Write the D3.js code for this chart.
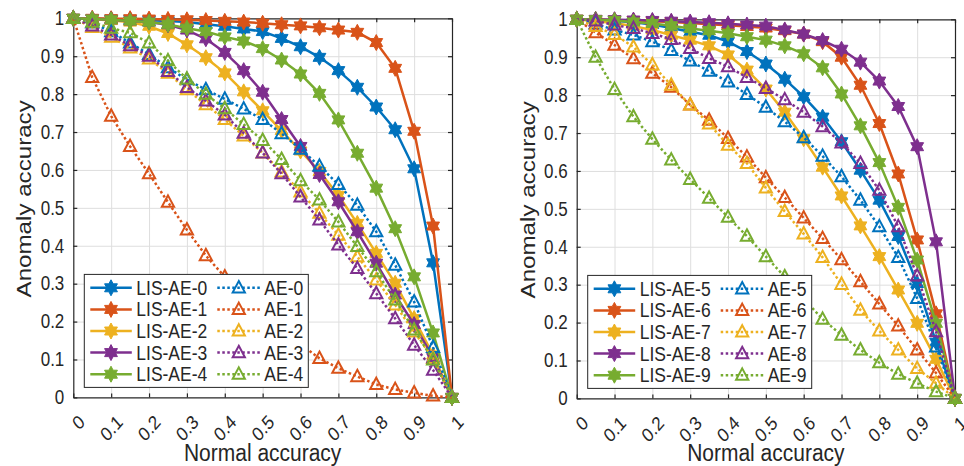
<!DOCTYPE html>
<meta charset="UTF-8">
<style>
	body { margin: 0; background: #fff; }
	svg text { font-family: "Liberation Sans", Arial, sans-serif; fill: #262626; }
	.grid line { stroke: #dedede; stroke-width: 1; }
	.grid path { display: none; }
	.axis path, .axis line { stroke: #262626; stroke-width: 1.2; }
	.legend rect { fill: #fff; stroke: #262626; stroke-width: 1; }
</style>
<body>
<script src="https://d3js.org/d3.v7.min.js"></script>
<script>

	// x values shared by every curve
	const normalAcc = [0, 0.05, 0.1, 0.15, 0.2, 0.25, 0.3, 0.35, 0.4, 0.45, 0.5, 0.55, 0.6, 0.65, 0.7, 0.75, 0.8, 0.85, 0.9, 0.95, 1];
	const tickValues = [0, 0.1, 0.2, 0.3, 0.4, 0.5, 0.6, 0.7, 0.8, 0.9, 1];
	const tickLabels = ["0", "0.1", "0.2", "0.3", "0.4", "0.5", "0.6", "0.7", "0.8", "0.9", "1"];

	// left panel
	const lisAE0 = [1, 0.999, 0.998, 0.997, 0.995, 0.993, 0.99, 0.984, 0.979, 0.972, 0.965, 0.947, 0.925, 0.897, 0.862, 0.818, 0.766, 0.706, 0.603, 0.355, 0];
	const lisAE1 = [1, 1, 0.999, 0.999, 0.998, 0.997, 0.996, 0.994, 0.992, 0.99, 0.987, 0.983, 0.98, 0.975, 0.969, 0.963, 0.936, 0.868, 0.702, 0.452, 0];
	const lisAE2 = [1, 0.998, 0.994, 0.99, 0.979, 0.96, 0.93, 0.896, 0.856, 0.806, 0.756, 0.704, 0.65, 0.596, 0.533, 0.459, 0.38, 0.301, 0.208, 0.112, 0];
	const lisAE3 = [1, 0.998, 0.996, 0.993, 0.99, 0.983, 0.969, 0.946, 0.91, 0.862, 0.805, 0.733, 0.662, 0.588, 0.516, 0.437, 0.354, 0.27, 0.192, 0.105, 0];
	const lisAE4 = [1, 0.998, 0.996, 0.993, 0.99, 0.984, 0.974, 0.965, 0.951, 0.94, 0.92, 0.89, 0.853, 0.802, 0.732, 0.644, 0.552, 0.445, 0.318, 0.17, 0];
	const ae0 = [1, 0.988, 0.965, 0.935, 0.905, 0.87, 0.838, 0.812, 0.787, 0.761, 0.733, 0.696, 0.655, 0.61, 0.562, 0.507, 0.437, 0.349, 0.252, 0.132, 0];
	const ae1 = [1, 0.844, 0.742, 0.662, 0.59, 0.515, 0.442, 0.374, 0.318, 0.27, 0.225, 0.182, 0.14, 0.103, 0.077, 0.055, 0.034, 0.021, 0.012, 0.004, 0];
	const ae2 = [1, 0.976, 0.95, 0.922, 0.893, 0.855, 0.812, 0.772, 0.733, 0.69, 0.645, 0.595, 0.542, 0.486, 0.428, 0.371, 0.31, 0.244, 0.173, 0.103, 0];
	const ae3 = [1, 0.98, 0.956, 0.928, 0.9, 0.86, 0.818, 0.782, 0.745, 0.697, 0.645, 0.59, 0.529, 0.468, 0.402, 0.34, 0.274, 0.208, 0.138, 0.072, 0];
	const ae4 = [1, 0.99, 0.974, 0.962, 0.935, 0.888, 0.84, 0.8, 0.762, 0.72, 0.678, 0.628, 0.572, 0.521, 0.463, 0.398, 0.332, 0.257, 0.178, 0.099, 0];

	// right panel
	const lisAE5 = [1, 0.998, 0.996, 0.992, 0.986, 0.977, 0.967, 0.958, 0.941, 0.915, 0.882, 0.842, 0.796, 0.742, 0.677, 0.602, 0.523, 0.427, 0.303, 0.148, 0];
	const lisAE6 = [1, 0.999, 0.998, 0.997, 0.995, 0.993, 0.99, 0.987, 0.984, 0.981, 0.977, 0.97, 0.961, 0.941, 0.9, 0.826, 0.725, 0.592, 0.418, 0.223, 0];
	const lisAE7 = [1, 0.995, 0.99, 0.982, 0.972, 0.958, 0.945, 0.93, 0.906, 0.866, 0.816, 0.755, 0.685, 0.61, 0.534, 0.455, 0.374, 0.286, 0.198, 0.103, 0];
	const lisAE8 = [1, 1, 0.999, 0.998, 0.997, 0.995, 0.993, 0.991, 0.988, 0.985, 0.982, 0.972, 0.961, 0.944, 0.921, 0.887, 0.837, 0.77, 0.664, 0.413, 0];
	const lisAE9 = [1, 0.999, 0.997, 0.993, 0.989, 0.983, 0.976, 0.97, 0.963, 0.954, 0.945, 0.93, 0.909, 0.872, 0.803, 0.719, 0.622, 0.504, 0.365, 0.198, 0];
	const ae5 = [1, 0.988, 0.972, 0.959, 0.941, 0.918, 0.89, 0.863, 0.835, 0.802, 0.768, 0.73, 0.688, 0.639, 0.585, 0.523, 0.453, 0.372, 0.264, 0.136, 0];
	const ae6 = [1, 0.965, 0.932, 0.896, 0.858, 0.821, 0.774, 0.734, 0.686, 0.637, 0.582, 0.53, 0.476, 0.422, 0.366, 0.308, 0.249, 0.191, 0.128, 0.067, 0];
	const ae7 = [1, 0.981, 0.96, 0.927, 0.88, 0.826, 0.774, 0.724, 0.668, 0.62, 0.555, 0.493, 0.434, 0.372, 0.301, 0.233, 0.178, 0.128, 0.079, 0.04, 0];
	const ae8 = [1, 0.996, 0.985, 0.976, 0.963, 0.947, 0.923, 0.897, 0.875, 0.847, 0.818, 0.788, 0.755, 0.717, 0.674, 0.62, 0.549, 0.453, 0.323, 0.176, 0];
	const ae9 = [1, 0.9, 0.815, 0.743, 0.684, 0.629, 0.578, 0.528, 0.478, 0.428, 0.374, 0.321, 0.263, 0.209, 0.167, 0.128, 0.094, 0.064, 0.04, 0.018, 0];

	const lisNames = ["LIS-AE-0", "LIS-AE-1", "LIS-AE-2", "LIS-AE-3", "LIS-AE-4", "LIS-AE-5", "LIS-AE-6", "LIS-AE-7", "LIS-AE-8", "LIS-AE-9"];
	const aeNames = ["AE-0", "AE-1", "AE-2", "AE-3", "AE-4", "AE-5", "AE-6", "AE-7", "AE-8", "AE-9"];

	const colors = ["#0072BD", "#D95319", "#EDB120", "#7E2F8E", "#77AC30"];

	const panels = [
		{ left: 73.3, right: 452, top: 18.3, bottom: 397.4, lis: [lisAE0, lisAE1, lisAE2, lisAE3, lisAE4], ae: [ae0, ae1, ae2, ae3, ae4], first: 0 },
		{ left: 576.7, right: 955, top: 19.3, bottom: 398.4, lis: [lisAE5, lisAE6, lisAE7, lisAE8, lisAE9], ae: [ae5, ae6, ae7, ae8, ae9], first: 5 }
	];

	const width = 964, height = 466;
	// the source picture is a bit stretched vertically
	const sy = 1.15;
	const svg = d3.select("body").append("svg")
		.attr("width", width)
		.attr("height", height);

	// matlab style markers
	const hexagram = r => {
		const pts = [];
		for (let i = 0; i < 12; i++) {
			const a = -Math.PI / 2 + i * Math.PI / 6;
			const rr = i % 2 == 0 ? r : r / Math.sqrt(3);
			pts.push([rr * Math.cos(a), rr * Math.sin(a) * 1.08]);
		}
		return "M" + pts.join("L") + "Z";
	};
	const starPath = hexagram(7.4);
	const triPath = "M0,-6.8L6.1,4.6L-6.1,4.6Z";

	const drawSolid = (g, pts, color) => {
		g.append("path")
			.attr("d", d3.line()(pts))
			.attr("fill", "none")
			.attr("stroke", color)
			.attr("stroke-width", 2.5);
		g.selectAll(null).data(pts).join("path")
			.attr("d", starPath)
			.attr("transform", d => `translate(${d[0]},${d[1]})`)
			.attr("fill", color)
			.attr("stroke", color)
			.attr("stroke-width", 1);
	};
	const drawDotted = (g, pts, color) => {
		g.append("path")
			.attr("d", d3.line()(pts))
			.attr("fill", "none")
			.attr("stroke", color)
			.attr("stroke-width", 2.5)
			.attr("stroke-dasharray", "2.5,2.5");
		g.selectAll(null).data(pts).join("path")
			.attr("d", triPath)
			.attr("transform", d => `translate(${d[0]},${d[1]})`)
			.attr("fill", "none")
			.attr("stroke", color)
			.attr("stroke-width", 2);
	};

	panels.forEach(p => {
		const x = d3.scaleLinear().domain([0, 1]).range([p.left, p.right]);
		const y = d3.scaleLinear().domain([0, 1]).range([p.bottom, p.top]);
		const g = svg.append("g");
		const h = p.bottom - p.top, w = p.right - p.left;

		// grid
		g.append("g").attr("class", "grid")
			.attr("transform", `translate(0,${p.bottom})`)
			.call(d3.axisBottom(x).tickValues(tickValues.slice(1, -1)).tickSize(-h).tickFormat(""));
		g.append("g").attr("class", "grid")
			.attr("transform", `translate(${p.left},0)`)
			.call(d3.axisLeft(y).tickValues(tickValues.slice(1, -1)).tickSize(-w).tickFormat(""));

		// box with inner ticks on all sides
		const xb = g.append("g").attr("class", "axis")
			.attr("transform", `translate(0,${p.bottom})`)
			.call(d3.axisBottom(x).tickValues(tickValues).tickFormat((d, i) => tickLabels[i]).tickSizeInner(-4).tickSizeOuter(0));
		xb.selectAll("text")
			.style("font-size", "17px")
			.attr("text-anchor", "end")
			.attr("dy", "0.35em")
			.attr("transform", `translate(8,21) scale(1,${sy}) rotate(-45)`)
			.attr("x", 0).attr("y", 0);
		g.append("g").attr("class", "axis")
			.attr("transform", `translate(0,${p.top})`)
			.call(d3.axisTop(x).tickValues(tickValues).tickFormat("").tickSizeInner(-4).tickSizeOuter(0));
		const yb = g.append("g").attr("class", "axis")
			.attr("transform", `translate(${p.left},0)`)
			.call(d3.axisLeft(y).tickValues(tickValues).tickFormat((d, i) => tickLabels[i]).tickSizeInner(-4).tickSizeOuter(0).tickPadding(9));
		yb.selectAll("text").style("font-size", "17px").attr("transform", `scale(1,${sy})`);
		g.append("g").attr("class", "axis")
			.attr("transform", `translate(${p.right},0)`)
			.call(d3.axisRight(y).tickValues(tickValues).tickFormat("").tickSizeInner(-4).tickSizeOuter(0));
		g.selectAll(".axis text").attr("fill", "#262626");

		// axis titles
		g.append("text")
			.attr("transform", `translate(${(p.left + p.right) / 2},461) scale(1,${sy})`)
			.attr("text-anchor", "middle")
			.style("font-size", "21px")
			.text("Normal accuracy");
		g.append("text")
			.attr("transform", `translate(${p.left - 42},${(p.top + p.bottom) / 2 - 9}) scale(1,${sy}) rotate(-90)`)
			.attr("text-anchor", "middle")
			.style("font-size", "21px")
			.text("Anomaly accuracy");

		// curves: all LIS-AE first, then AE
		p.lis.forEach((vals, i) => {
			drawSolid(g.append("g"), normalAcc.map((n, k) => [x(n), y(vals[k])]), colors[i]);
		});
		p.ae.forEach((vals, i) => {
			drawDotted(g.append("g"), normalAcc.map((n, k) => [x(n), y(vals[k])]), colors[i]);
		});

		// legend
		const lg = g.append("g").attr("class", "legend")
			.attr("transform", `translate(${p.left + 11},${p.bottom - 123})`);
		lg.append("rect").attr("width", 224).attr("height", 113);
		colors.forEach((c, i) => {
			const ry = 13.4 + i * 21.6;
			const row = lg.append("g").attr("transform", `translate(0,${ry})`);
			row.append("path")
				.attr("d", d3.line()([[6, 0], [47.5, 0]]))
				.attr("stroke", c).attr("stroke-width", 2.5);
			row.append("path").attr("d", starPath).attr("transform", "translate(26.7,0)")
				.attr("fill", c).attr("stroke", c).attr("stroke-width", 1);
			row.append("text").attr("transform", `translate(52,0) scale(1,${sy})`).attr("dy", "0.35em")
				.style("font-size", "17.5px").text(lisNames[p.first + i]);

			row.append("path")
				.attr("d", d3.line()([[133, 0], [176, 0]]))
				.attr("stroke", c).attr("stroke-width", 2.5).attr("stroke-dasharray", "2.5,2.5");
			row.append("path").attr("d", triPath).attr("transform", "translate(154.5,0)")
				.attr("fill", "none").attr("stroke", c).attr("stroke-width", 2);
			row.append("text").attr("transform", `translate(180,0) scale(1,${sy})`).attr("dy", "0.35em")
				.style("font-size", "17.5px").text(aeNames[p.first + i]);
		});
	});

</script>
</body>
